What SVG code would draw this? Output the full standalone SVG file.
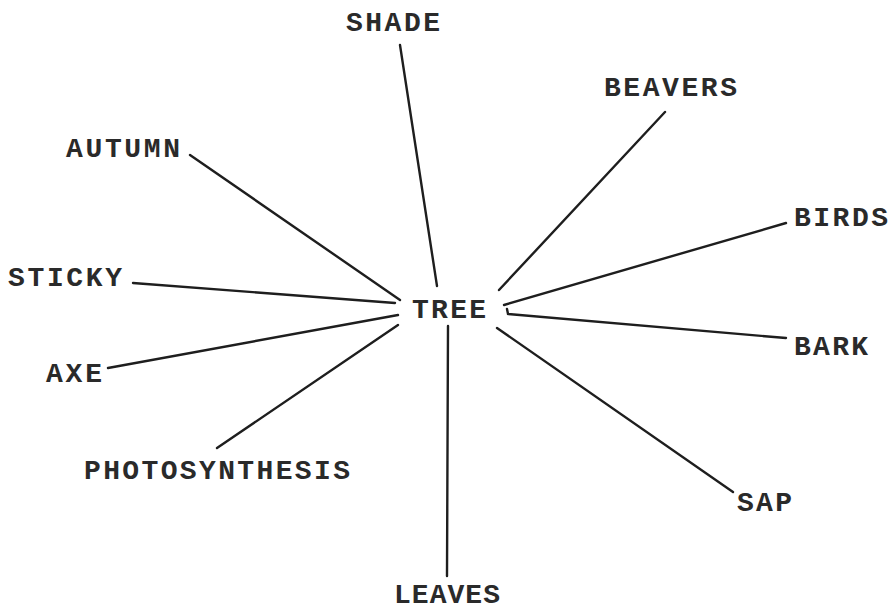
<svg xmlns="http://www.w3.org/2000/svg" width="893" height="612" viewBox="0 0 893 612">
<style>
  .lbl { font-family: "Liberation Mono", "Courier New", monospace; font-size: 28px; font-weight: bold; fill: #2a2a2a; }
  .c line, .c polyline { stroke: #1e1e1e; stroke-width: 2.4; stroke-linecap: round; fill: none; }
</style>
<rect width="893" height="612" fill="#ffffff"/>
<g id="connectors" class="c">
  <line x1="400" y1="45" x2="437" y2="286"/>
  <line x1="665" y1="112" x2="499" y2="290"/>
  <line x1="786" y1="223" x2="504" y2="305"/>
  <polyline points="507,309 508,314 786,338"/>
  <line x1="497" y1="328" x2="733" y2="492"/>
  <line x1="448" y1="326" x2="447" y2="576"/>
  <line x1="190" y1="155" x2="400" y2="300"/>
  <line x1="133" y1="283" x2="395" y2="303"/>
  <line x1="108" y1="368" x2="398" y2="315"/>
  <line x1="217" y1="448" x2="398" y2="325"/>
</g>
<g id="tree"><text class="lbl" x="412" y="318" textLength="74" lengthAdjust="spacing">TREE</text></g>
<g id="shade"><text class="lbl" x="346" y="31" textLength="94" lengthAdjust="spacing">SHADE</text></g>
<g id="beavers"><text class="lbl" x="604" y="96" textLength="133" lengthAdjust="spacing">BEAVERS</text></g>
<g id="birds"><text class="lbl" x="794" y="226" textLength="94" lengthAdjust="spacing">BIRDS</text></g>
<g id="bark"><text class="lbl" x="794" y="355" textLength="74" lengthAdjust="spacing">BARK</text></g>
<g id="sap"><text class="lbl" x="737" y="511" textLength="55" lengthAdjust="spacing">SAP</text></g>
<g id="leaves"><text class="lbl" x="394" y="603" textLength="106" lengthAdjust="spacing">LEAVES</text></g>
<g id="autumn"><text class="lbl" x="66" y="157" textLength="114" lengthAdjust="spacing">AUTUMN</text></g>
<g id="sticky"><text class="lbl" x="8" y="286" textLength="114" lengthAdjust="spacing">STICKY</text></g>
<g id="axe"><text class="lbl" x="46" y="382" textLength="56" lengthAdjust="spacing">AXE</text></g>
<g id="photosynthesis"><text class="lbl" x="84" y="479" textLength="266" lengthAdjust="spacing">PHOTOSYNTHESIS</text></g>
</svg>
